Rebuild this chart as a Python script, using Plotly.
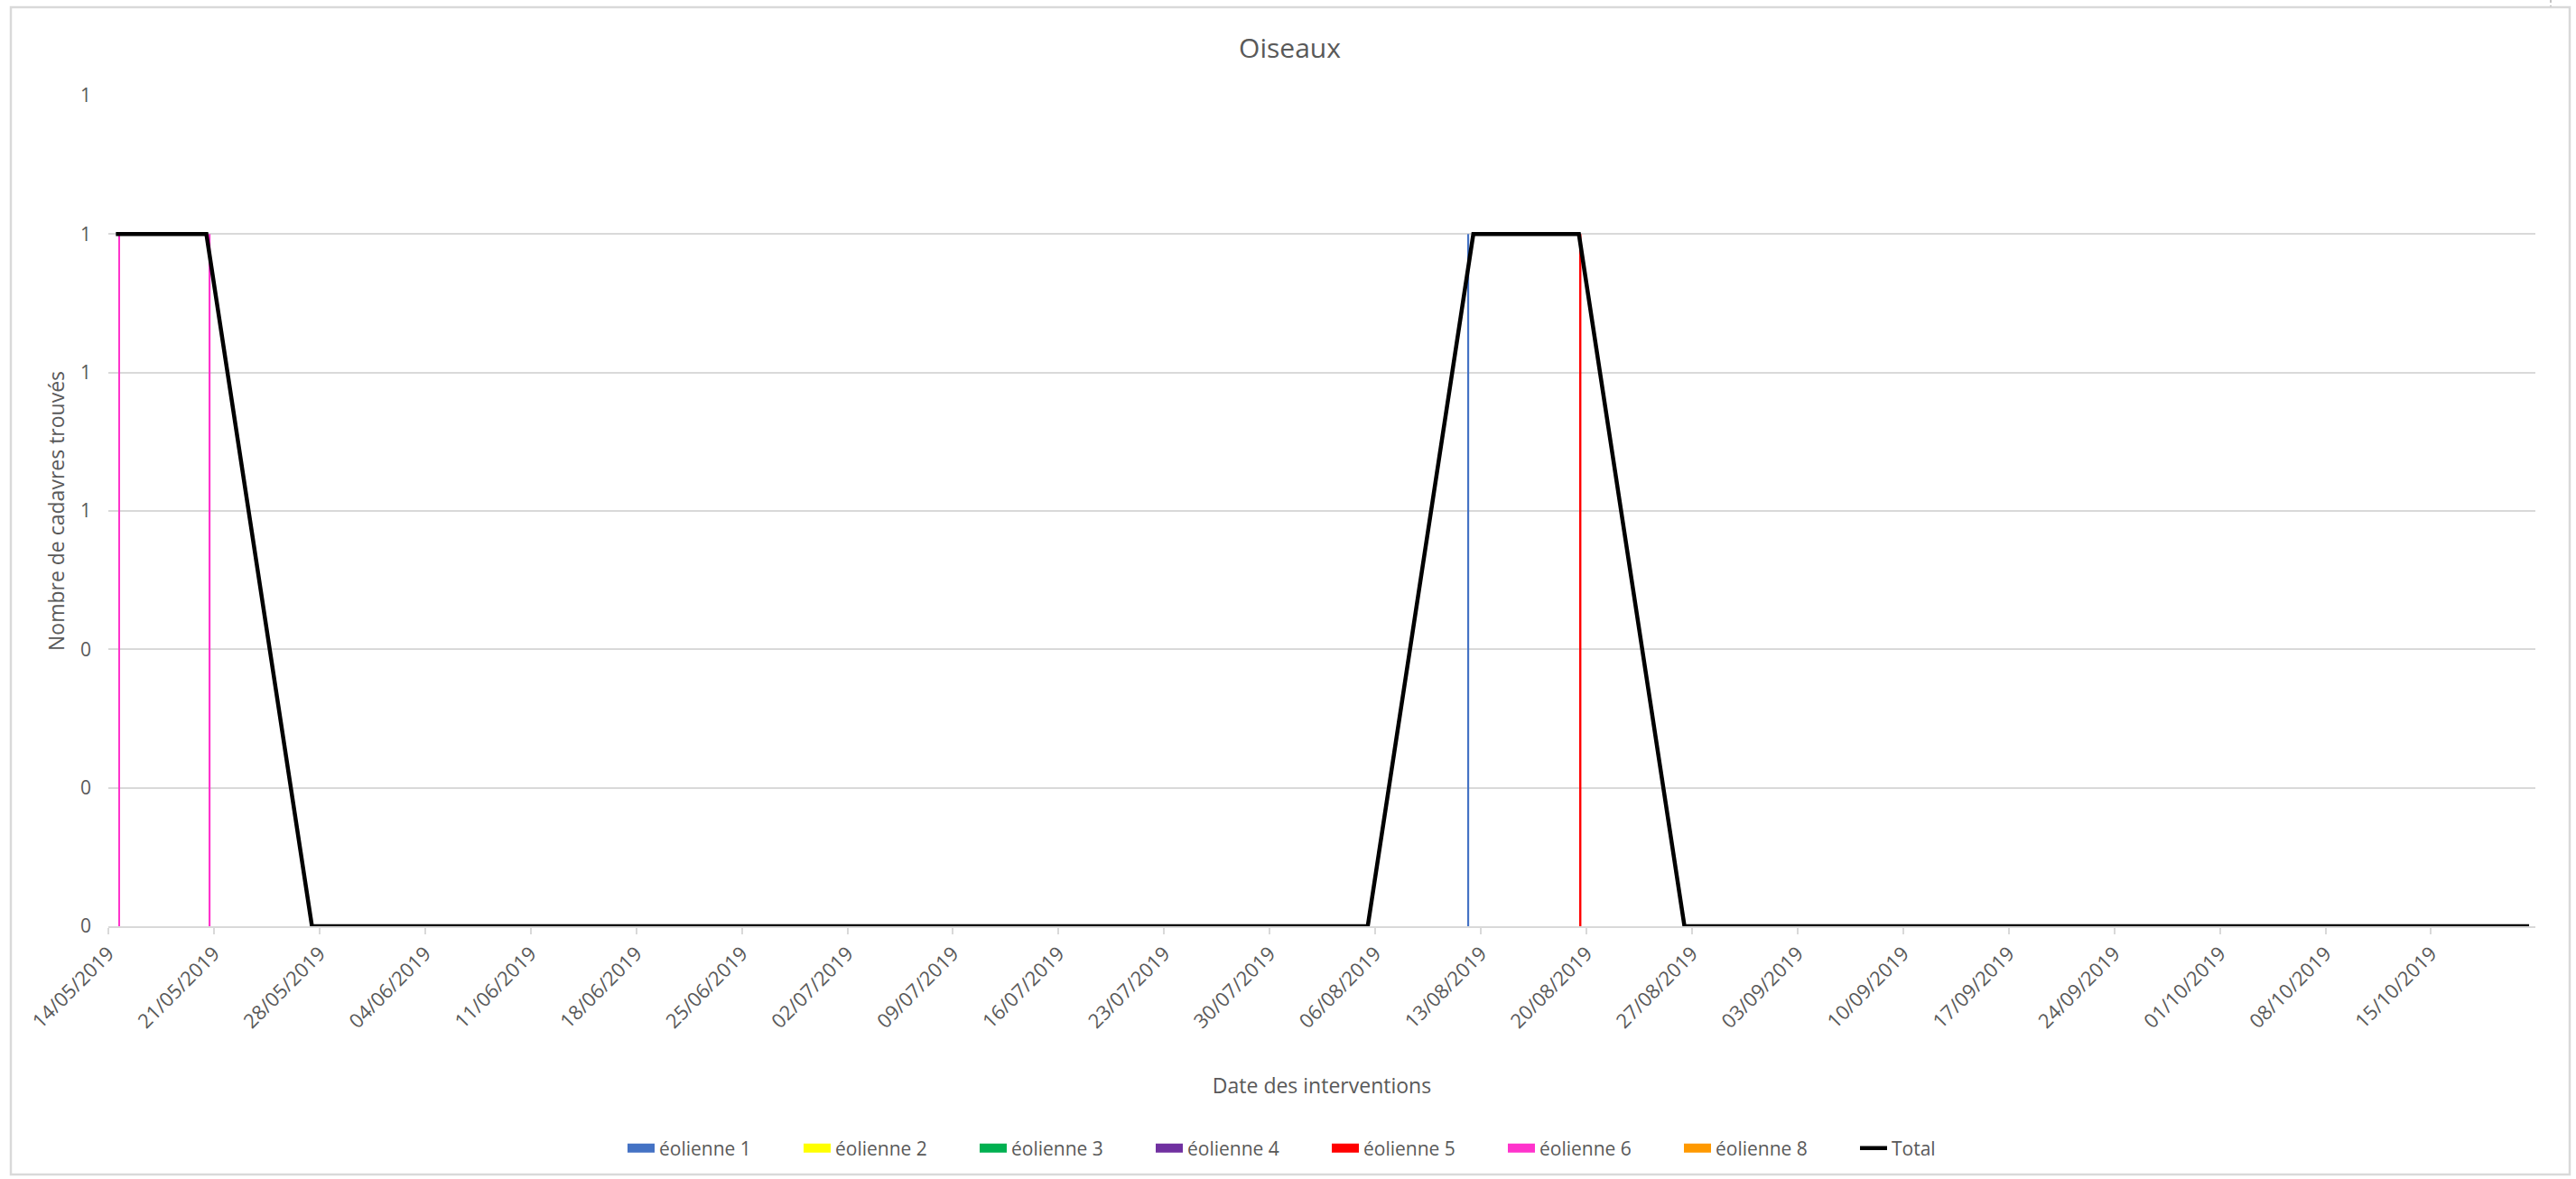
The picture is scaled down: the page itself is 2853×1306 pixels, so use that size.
import plotly.graph_objects as go

# Intervention dates (one survey per week) and carcass counts per turbine
dates = [
    "2019-05-14", "2019-05-20", "2019-05-27", "2019-06-03", "2019-06-10",
    "2019-06-17", "2019-06-24", "2019-07-01", "2019-07-08", "2019-07-15",
    "2019-07-22", "2019-07-29", "2019-08-05", "2019-08-12", "2019-08-19",
    "2019-08-26", "2019-09-02", "2019-09-09", "2019-09-16", "2019-09-23",
    "2019-09-30", "2019-10-07", "2019-10-14", "2019-10-21",
]

eolienne_1 = [0, 0, 0, 0, 0, 0, 0, 0, 0, 0, 0, 0, 0, 1, 0, 0, 0, 0, 0, 0, 0, 0, 0, 0]
eolienne_2 = [0, 0, 0, 0, 0, 0, 0, 0, 0, 0, 0, 0, 0, 0, 0, 0, 0, 0, 0, 0, 0, 0, 0, 0]
eolienne_3 = [0, 0, 0, 0, 0, 0, 0, 0, 0, 0, 0, 0, 0, 0, 0, 0, 0, 0, 0, 0, 0, 0, 0, 0]
eolienne_4 = [0, 0, 0, 0, 0, 0, 0, 0, 0, 0, 0, 0, 0, 0, 0, 0, 0, 0, 0, 0, 0, 0, 0, 0]
eolienne_5 = [0, 0, 0, 0, 0, 0, 0, 0, 0, 0, 0, 0, 0, 0, 1, 0, 0, 0, 0, 0, 0, 0, 0, 0]
eolienne_6 = [1, 1, 0, 0, 0, 0, 0, 0, 0, 0, 0, 0, 0, 0, 0, 0, 0, 0, 0, 0, 0, 0, 0, 0]
eolienne_8 = [0, 0, 0, 0, 0, 0, 0, 0, 0, 0, 0, 0, 0, 0, 0, 0, 0, 0, 0, 0, 0, 0, 0, 0]
total = [1, 1, 0, 0, 0, 0, 0, 0, 0, 0, 0, 0, 0, 1, 1, 0, 0, 0, 0, 0, 0, 0, 0, 0]

series_names = ["éolienne 1", "éolienne 2", "éolienne 3", "éolienne 4",
                "éolienne 5", "éolienne 6", "éolienne 8"]
series_values = [eolienne_1, eolienne_2, eolienne_3, eolienne_4,
                 eolienne_5, eolienne_6, eolienne_8]
series_colors = ["#4472C4", "#FFFF00", "#00B050", "#7030A0",
                 "#FF0000", "#FF33CC", "#FF9900"]

DAY_MS = 86400000
W, H = 2853, 1306
L, R, T, B = 120, 45, 106, 280
TEXT = "#595959"
GRID = "#D9D9D9"
FONT = "Open Sans"


def px_x(px):
    return (px - L) / (W - L - R)


def px_y(py):
    return (H - B - py) / (H - T - B)


fig = go.Figure()

# Thin clustered bars inside each day slot, one slot position per turbine
bar_w = 0.11 * DAY_MS
n = len(series_names)
for i, (name, vals, col) in enumerate(zip(series_names, series_values, series_colors)):
    fig.add_trace(go.Bar(
        x=dates, y=vals, name=name, legendgroup=name, showlegend=False,
        marker=dict(color=col, line=dict(width=0)),
        xperiod=DAY_MS, xperiodalignment="middle",
        width=bar_w, offset=(i - (n - 1) / 2) * bar_w - bar_w / 2,
    ))
    # legend entry drawn as a wide swatch
    fig.add_trace(go.Scatter(
        x=[None], y=[None], mode="lines", name=name, legendgroup=name,
        line=dict(color=col, width=13),
    ))

fig.add_trace(go.Scatter(
    x=dates, y=total, name="Total", mode="lines",
    line=dict(color="#000000", width=4.5),
    xperiod=DAY_MS, xperiodalignment="middle",
))

fig.update_layout(
    width=W, height=H,
    margin=dict(l=L, r=R, t=T, b=B, pad=0),
    paper_bgcolor="white", plot_bgcolor="white",
    barmode="overlay",
    font=dict(family=FONT, color=TEXT, size=21),
    title=dict(text="Oiseaux", x=1428.5 / W, xref="container", xanchor="center",
               y=1 - 53 / H, yref="container", yanchor="middle",
               font=dict(size=30, color=TEXT, family=FONT)),
    xaxis=dict(
        type="date",
        range=["2019-05-14", "2019-10-21 22:00"],
        tick0="2019-05-14", dtick=7 * DAY_MS,
        tickformat="%d/%m/%Y", tickangle=-45,
        tickfont=dict(size=22, color=TEXT),
        ticks="outside", ticklen=7, tickcolor=GRID, tickwidth=1.5,
        showline=True, linecolor=GRID, linewidth=1.5,
        showgrid=False, zeroline=False,
        title=dict(text="Date des interventions", standoff=51,
                   font=dict(size=23, color=TEXT)),
    ),
    yaxis=dict(
        range=[0, 1.2], dtick=0.2, tick0=0, tickformat=".0f",
        tickfont=dict(size=21, color=TEXT),
        ticklabelstandoff=18,
        showgrid=True, gridcolor=GRID, gridwidth=1.5,
        zeroline=False, showline=False, ticks="",
        title=dict(text="Nombre de cadavres trouvés", standoff=10,
                   font=dict(size=23, color=TEXT)),
    ),
    legend=dict(
        orientation="h", xanchor="center", x=px_x(1470),
        yref="container", yanchor="middle", y=1 - 1272 / H,
        font=dict(size=21, color=TEXT),
        entrywidth=150, entrywidthmode="pixels",
        traceorder="normal",
        bgcolor="rgba(0,0,0,0)",
    ),
    shapes=[
        dict(type="rect", xref="paper", yref="paper",
             x0=px_x(12), x1=px_x(2846), y0=px_y(1301), y1=px_y(8),
             line=dict(color=GRID, width=2.5), fillcolor="rgba(0,0,0,0)",
             layer="below"),
        dict(type="line", xref="paper", yref="paper",
             x0=px_x(2825), x1=px_x(2825), y0=px_y(0), y1=px_y(7),
             line=dict(color="#888888", width=1, dash="dot")),
    ],
)

fig.write_html("out.html")
